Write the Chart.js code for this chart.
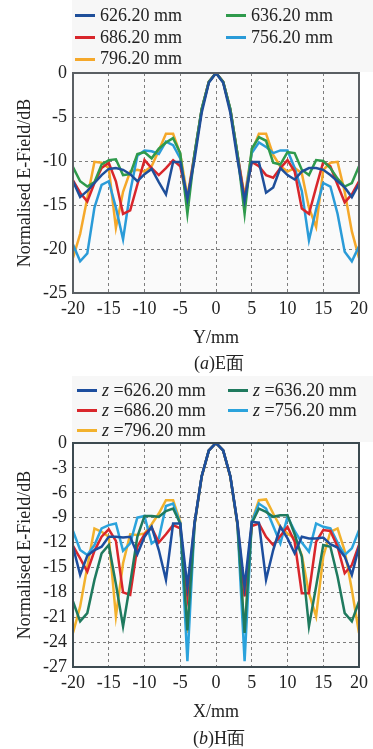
<!DOCTYPE html>
<html>
<head>
<meta charset="utf-8">
<script src="https://cdn.jsdelivr.net/npm/chart.js@4/dist/chart.umd.min.js"></script>
<style>
  body { margin: 0; background: #fff; width: 373px; height: 749px; position: relative; overflow: hidden;
         font-family: "Liberation Serif", "Times New Roman", serif; color: #222; }
  canvas { position: absolute; left: 0; }
  .legend-bg { position: absolute; left: 72px; width: 301px; background: #f7f7f7; }
  .item { position: absolute; font-size: 18px; line-height: 20px; white-space: nowrap; }
  .item .sw { display: inline-block; width: 20px; height: 3px; vertical-align: middle; margin-right: 5px; position: relative; top: -1px; }
  .cap { position: absolute; left: 0; width: 438px; text-align: center; font-size: 18px; line-height: 22px; }
</style>
</head>
<body>
<div class="legend-bg" style="top:0;height:72px"></div>
<div class="legend-bg" style="top:376px;height:66px"></div>
<canvas id="chartE" width="373" height="350" style="top:0"></canvas>
<canvas id="chartH" width="373" height="360" style="top:370px"></canvas>
<div class="cap" style="top:352px">(<i>a</i>)E面</div>
<div class="cap" style="top:727px">(<i>b</i>)H面</div>
<div id="legendE"></div>
<div id="legendH"></div>
<script>
// positions along the aperture (mm)
const xPos = [-20,-19,-18,-17,-16,-15,-14,-13,-12,-11,-10,-9,-8,-7,-6,-5,-4,-3,-2,-1,0,
              1,2,3,4,5,6,7,8,9,10,11,12,13,14,15,16,17,18,19,20];

const seriesLabels = ['626.20 mm', '636.20 mm', '686.20 mm', '756.20 mm', '796.20 mm'];

// (a) E plane, dB
const e626 = [-12.3,-14.1,-13.4,-12.5,-11.6,-10.9,-10.8,-11.0,-11.5,-12.3,-11.5,-10.9,-12.4,-13.8,-10.1,-10.1,-14.3,-9.8,-4.5,-1.1,0,
              -1.1,-4.5,-9.8,-14.5,-10.1,-10.1,-13.6,-13.0,-10.8,-11.6,-12.1,-11.2,-10.8,-10.8,-11.0,-11.6,-12.3,-13.0,-14.1,-12.6];
const e636 = [-10.7,-12.3,-12.9,-12.4,-10.4,-9.9,-9.8,-11.6,-11.5,-9.2,-9.0,-9.7,-8.6,-7.9,-7.4,-9.1,-16.0,-9.2,-4.1,-1.0,0,
              -1.0,-4.1,-9.2,-16.0,-8.6,-7.3,-7.7,-10.2,-10.4,-9.0,-9.1,-11.0,-11.6,-9.9,-10.0,-10.8,-12.0,-12.9,-12.5,-10.6];
const e686 = [-12.2,-13.6,-14.6,-12.5,-10.8,-10.2,-12.3,-16.0,-15.6,-12.7,-9.9,-10.8,-11.6,-10.8,-9.9,-10.6,-14.5,-9.3,-4.2,-1.0,0,
              -1.0,-4.2,-9.3,-14.3,-10.1,-10.6,-11.6,-11.9,-10.8,-9.9,-11.2,-15.4,-16.0,-13.0,-10.1,-10.6,-12.7,-14.7,-13.8,-12.3];
const e756 = [-19.5,-21.4,-20.5,-15.3,-12.7,-12.3,-15.3,-18.9,-13.5,-9.4,-8.8,-8.9,-9.2,-7.8,-8.2,-9.7,-14.5,-9.2,-4.1,-1.0,0,
              -1.0,-4.1,-9.2,-14.5,-9.1,-7.9,-8.4,-9.1,-8.8,-8.8,-10.8,-13.4,-19.0,-15.5,-12.5,-12.9,-16.0,-20.3,-21.4,-19.7];
const e796 = [-21.0,-18.3,-14.2,-10.1,-10.2,-10.8,-17.6,-13.5,-11.2,-11.0,-11.2,-10.6,-8.8,-6.9,-6.9,-9.2,-14.0,-9.2,-4.1,-1.0,0,
              -1.0,-4.1,-9.2,-14.0,-9.0,-6.9,-6.9,-9.3,-10.6,-11.2,-10.8,-11.4,-15.3,-17.5,-11.0,-10.2,-10.1,-13.5,-18.0,-21.0];

// (b) H plane, dB
const h626 = [-12.5,-15.9,-13.6,-12.9,-12.5,-11.3,-11.3,-11.4,-11.3,-13.4,-11.3,-10.1,-12.9,-16.5,-9.7,-9.7,-17.3,-9.6,-4.0,-0.9,0,
              -0.9,-4.0,-9.6,-17.3,-9.5,-9.6,-16.5,-12.9,-10.1,-11.5,-13.3,-11.3,-11.5,-11.5,-11.4,-12.2,-12.6,-13.7,-15.9,-12.5];
const h636 = [-19.1,-21.5,-20.5,-16.5,-13.3,-12.3,-17.0,-22.1,-16.9,-11.3,-8.8,-8.8,-8.9,-8.2,-7.9,-9.7,-22.6,-9.7,-4.0,-0.9,0,
              -0.9,-4.0,-9.7,-22.9,-9.7,-7.9,-8.3,-8.9,-8.7,-8.7,-11.0,-13.7,-22.1,-17.3,-12.3,-12.5,-16.1,-20.5,-21.5,-19.1];
const h686 = [-12.4,-13.9,-15.5,-13.0,-11.3,-10.4,-11.8,-18.0,-18.3,-12.5,-11.0,-10.2,-12.0,-11.0,-9.9,-10.3,-18.5,-9.7,-4.0,-0.9,0,
              -0.9,-4.0,-9.7,-18.5,-10.0,-9.7,-11.3,-12.3,-11.2,-10.1,-11.9,-18.1,-18.1,-11.9,-10.5,-10.6,-12.5,-15.7,-14.7,-12.3];
const h756 = [-10.6,-12.9,-13.5,-12.3,-10.3,-9.9,-9.7,-13.0,-12.1,-9.0,-8.8,-12.1,-11.5,-7.6,-7.3,-9.7,-26.3,-9.8,-4.0,-0.9,0,
              -0.9,-4.0,-9.8,-26.3,-9.5,-7.3,-7.9,-10.0,-12.1,-8.9,-10.6,-12.0,-13.1,-9.7,-10.1,-10.3,-12.0,-13.5,-12.7,-10.5];
const h796 = [-22.9,-19.7,-14.9,-10.3,-10.7,-11.3,-20.9,-14.5,-11.0,-11.1,-10.9,-9.8,-8.5,-6.9,-6.9,-9.5,-22.9,-9.9,-4.1,-0.9,0,
              -0.9,-4.1,-9.9,-22.9,-9.5,-6.9,-6.8,-8.5,-10.1,-10.9,-11.5,-13.5,-18.1,-20.9,-13.7,-10.7,-10.3,-13.0,-17.7,-22.9];

const colorsE = ['#1f4f9a', '#2f9a4c', '#d8262b', '#2a9bd8', '#f5a82a'];
const colorsH = ['#1d4e9e', '#1f7a5e', '#d9262b', '#2ba3dc', '#f2b12c'];

const serif = '"Liberation Serif", "Times New Roman", serif';

// plot background + full frame around the plot area
const framePlugin = {
  id: 'frame',
  beforeDraw(chart, args, opts) {
    const a = chart.chartArea, c = chart.ctx;
    c.save();
    c.fillStyle = '#fafafa';
    c.fillRect(a.left, a.top, a.right - a.left, a.bottom - a.top);
    c.restore();
  },
  afterDraw(chart, args, opts) {
    const a = chart.chartArea, c = chart.ctx;
    c.save();
    c.strokeStyle = opts.color;
    c.lineWidth = 2;
    c.strokeRect(a.left, a.top, a.right - a.left, a.bottom - a.top);
    c.restore();
  }
};

function buildChart(id, seriesList, colors, yMin, yStep, xTitle, frameColor, xAxisH, titlePad) {
  const ctx = document.getElementById(id).getContext('2d');
  const datasets = seriesList.map((s, i) => ({
    label: seriesLabels[i],
    data: xPos.map((x, j) => ({ x: x, y: s[j] })),
    borderColor: colors[i],
    backgroundColor: colors[i],
    borderWidth: 2.5,
    pointRadius: 0,
    tension: 0,
    fill: false
  }));
  return new Chart(ctx, {
    type: 'line',
    data: { datasets },
    plugins: [framePlugin],
    options: {
      responsive: false,
      animation: false,
      devicePixelRatio: 1,
      layout: { padding: { top: 73, right: 6, left: 0, bottom: 0 } },
      plugins: {
        legend: { display: false },
        tooltip: { enabled: false },
        frame: { color: frameColor }
      },
      scales: {
        x: {
          type: 'linear', min: -20, max: 20,
          afterFit: s => { s.height = xAxisH; },
          ticks: { stepSize: 5, color: '#222', font: { family: serif, size: 18 }, padding: 5, maxRotation: 0 },
          grid: { color: '#7d7d7d', lineWidth: 1, drawTicks: false },
          border: { display: false, dash: [3, 3] },
          title: { display: true, text: xTitle, color: '#222', font: { family: serif, size: 18 }, padding: { top: 0, bottom: titlePad } }
        },
        y: {
          min: yMin, max: 0,
          afterFit: s => { s.width = 73; },
          ticks: { stepSize: yStep, color: '#222', font: { family: serif, size: 18 }, padding: 6 },
          grid: { color: '#7d7d7d', lineWidth: 1, drawTicks: false },
          border: { display: false, dash: [3, 3] },
          title: { display: true, text: 'Normalised E-Field/dB', color: '#222', font: { family: serif, size: 18 }, padding: { top: 14, bottom: 0 } }
        }
      }
    }
  });
}

buildChart('chartE', [e626, e636, e686, e756, e796], colorsE, -25, 5, 'Y/mm', '#5a5f63', 57, 1);
buildChart('chartH', [h626, h636, h686, h756, h796], colorsH, -27, 3, 'X/mm', '#3c4a50', 63, 7);

// HTML legends, two columns
function buildLegend(id, colors, top, rowGap, cols, prefix) {
  const box = document.getElementById(id);
  seriesLabels.forEach((lab, i) => {
    const row = Math.floor(i / 2), col = i % 2;
    const d = document.createElement('div');
    d.className = 'item';
    d.style.left = cols[col] + 'px';
    d.style.top = (top + row * rowGap - 10) + 'px';
    d.innerHTML = '<span class="sw" style="background:' + colors[i] + '"></span>' + prefix + lab;
    box.appendChild(d);
  });
}
buildLegend('legendE', colorsE, 15, 21.6, [75, 226], '');
buildLegend('legendH', colorsH, 390, 20, [77, 228], '<i>z</i> =');
</script>
</body>
</html>
